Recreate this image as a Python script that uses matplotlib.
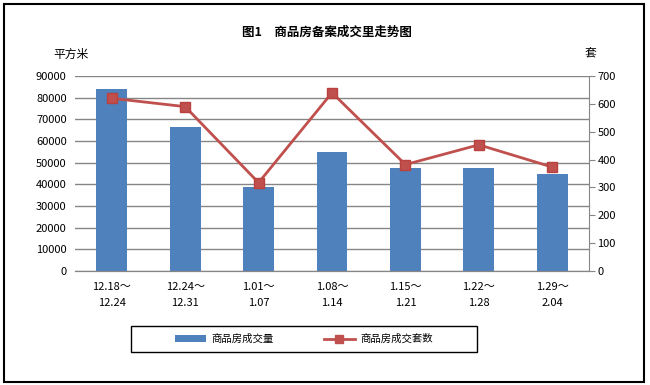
import matplotlib
matplotlib.use("Agg")
import matplotlib.pyplot as plt
from matplotlib.patches import Rectangle
from matplotlib.lines import Line2D
from matplotlib.patches import Patch

plt.rcParams['font.family'] = ['Noto Sans CJK SC', 'DejaVu Sans']

categories = ["12.18～\n12.24", "12.24～\n12.31", "1.01～\n1.07", "1.08～\n1.14",
              "1.15～\n1.21", "1.22～\n1.28", "1.29～\n2.04"]
area = [84000, 66500, 38800, 54900, 47500, 47500, 44800]
units = [620, 590, 317, 640, 382, 453, 373]

title = "图1　商品房备案成交里走势图"
left_unit = "平方米"
right_unit = "套"
bar_label = "商品房成交量"
line_label = "商品房成交套数"

bar_color = "#4F81BD"
line_color = "#C0504D"
grid_color = "#868686"

fig = plt.figure(figsize=(6.5, 3.85), dpi=100)
W, H = 650, 385
ax = fig.add_axes([75 / W, 1 - 271 / H, (589 - 75) / W, (271 - 76) / H])
ax2 = ax.twinx()

x = list(range(len(categories)))
ax.bar(x, area, width=0.42, color=bar_color, zorder=2)
ax.set_xlim(-0.5, len(categories) - 0.5)
ax.set_ylim(0, 90000)
ax.set_yticks(range(0, 90001, 10000))
ax.yaxis.grid(True, color=grid_color, linewidth=1.0, zorder=0)
ax.set_axisbelow(True)

ax2.plot(x, units, color=line_color, linewidth=2.0, marker='s', markersize=7,
         markerfacecolor=line_color, markeredgecolor="#B9413E", zorder=3)
ax2.set_ylim(0, 700)
ax2.set_yticks(range(0, 701, 100))

for a in (ax, ax2):
    a.spines['top'].set_visible(False)
    a.spines['left'].set_visible(False)
    a.spines['right'].set_color(grid_color)
    a.spines['bottom'].set_color(grid_color)
ax.spines['right'].set_visible(False)
ax2.spines['left'].set_visible(False)

ax.tick_params(axis='y', length=0, labelsize=8, pad=6)
ax.tick_params(axis='x', length=0, labelsize=8, pad=8)
ax2.tick_params(axis='y', length=4, color=grid_color, labelsize=8, pad=2)
ax.set_xticks(x)
ax.set_xticklabels(categories, linespacing=1.75)

fig.text(327 / W, 1 - 32 / H, title, ha='center', va='center', fontsize=9, fontweight='bold')
fig.text(71 / W, 1 - 54 / H, left_unit, ha='center', va='center', fontsize=8.5)
fig.text(590 / W, 1 - 54 / H, right_unit, ha='center', va='center', fontsize=8.5)

handles = [Patch(facecolor=bar_color, edgecolor='none'),
           Line2D([0], [0], color=line_color, linewidth=2.0, marker='s', markersize=6)]
leg = fig.legend(handles, [bar_label, line_label], loc='center',
                 bbox_to_anchor=(304 / W, 1 - 339 / H), ncol=2, frameon=False,
                 fontsize=7.5, handlelength=3.0, handleheight=0.6, columnspacing=4.8,
                 handletextpad=0.5)

fig.patches.append(Rectangle((131 / W, 1 - 352 / H), 346 / W, 26 / H, transform=fig.transFigure,
                             fill=False, edgecolor='black', linewidth=1.0))
fig.patches.append(Rectangle((4 / W, 1 - 382 / H), 640 / W, 378 / H, transform=fig.transFigure,
                             fill=False, edgecolor='black', linewidth=1.5))

fig.savefig("out.png", dpi=100)
